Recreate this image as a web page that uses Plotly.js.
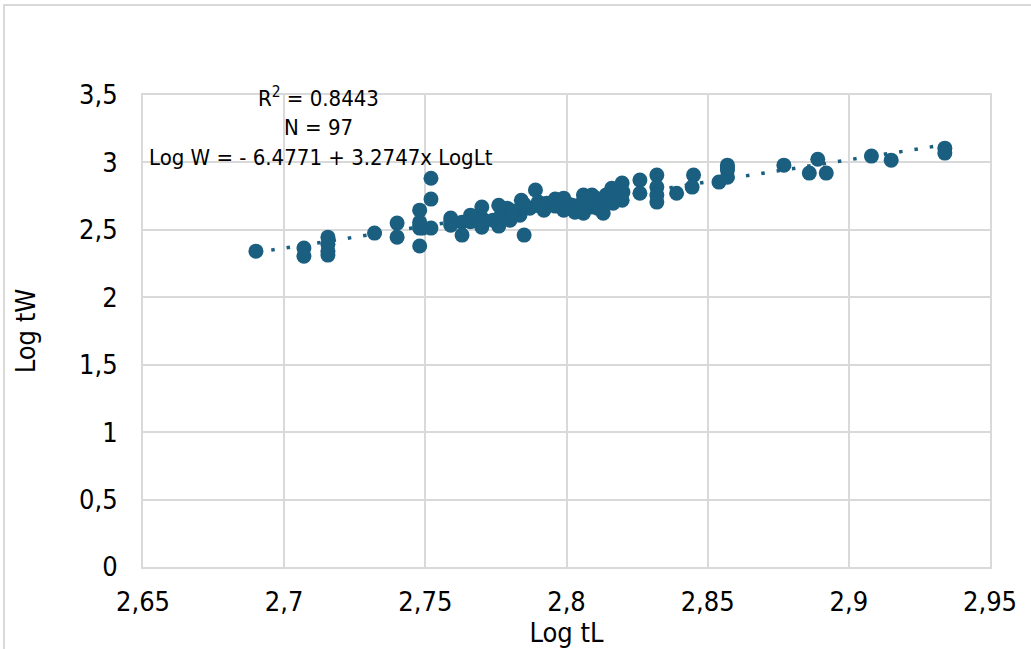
<!DOCTYPE html>
<html>
<head>
<meta charset="utf-8">
<script src="https://cdn.plot.ly/plotly-3.0.1.min.js"></script>
<style>
html,body{margin:0;padding:0;background:#fff;}
#wrap{position:relative;width:1031px;height:649px;}
#chart{width:1031px;height:649px;}
svg text{font-stretch:condensed !important;}
#frame{position:absolute;left:3px;top:4px;width:1040px;height:660px;border-left:2px solid #d9d9d9;border-top:2px solid #d9d9d9;pointer-events:none;}
</style>
</head>
<body>
<div id="wrap"><div id="chart"></div><div id="frame"></div></div>
<script>
// Log total length (x) and Log total weight (y)
const logTL = [
  2.690, 2.707, 2.707, 2.7155, 2.7155, 2.7155, 2.7155, 2.732, 2.740, 2.740,
  2.748, 2.748, 2.748, 2.748, 2.749, 2.752, 2.752, 2.752, 2.759, 2.759,
  2.763, 2.763, 2.770, 2.770, 2.770, 2.774, 2.776, 2.777, 2.776, 2.779,
  2.784, 2.7835, 2.785, 2.789, 2.787, 2.790, 2.793, 2.796, 2.799, 2.799,
  2.802, 2.806, 2.806, 2.809, 2.809, 2.8126, 2.813, 2.816, 2.8165, 2.8197,
  2.8197, 2.826, 2.826, 2.832, 2.832, 2.832, 2.832, 2.839, 2.845, 2.8445,
  2.854, 2.857, 2.857, 2.857, 2.877, 2.889, 2.886, 2.892, 2.908, 2.915,
  2.934, 2.934, 2.780, 2.792, 2.808, 2.811, 2.814, 2.818, 2.803, 2.796,
  2.766, 2.766, 2.781, 2.785, 2.800, 2.805, 2.810, 2.815, 2.820, 2.770,
  2.759, 2.748, 2.790, 2.798, 2.812, 2.807, 2.857
];
const logTW = [
  2.342, 2.365, 2.305, 2.446, 2.394, 2.342, 2.313, 2.476, 2.550, 2.446,
  2.646, 2.557, 2.513, 2.380, 2.513, 2.883, 2.728, 2.513, 2.587, 2.535,
  2.557, 2.461, 2.669, 2.587, 2.520, 2.572, 2.683, 2.624, 2.528, 2.661,
  2.720, 2.609, 2.461, 2.795, 2.661, 2.706, 2.698, 2.676, 2.735, 2.646,
  2.683, 2.758, 2.624, 2.758, 2.669, 2.720, 2.624, 2.809, 2.698, 2.847,
  2.720, 2.869, 2.772, 2.906, 2.817, 2.758, 2.706, 2.772, 2.906, 2.817,
  2.854, 2.980, 2.943, 2.891, 2.980, 3.024, 2.921, 2.921, 3.047, 3.017,
  3.106, 3.069, 2.572, 2.646, 2.706, 2.661, 2.758, 2.758, 2.631, 2.728,
  2.609, 2.560, 2.640, 2.690, 2.700, 2.690, 2.740, 2.730, 2.780, 2.560,
  2.560, 2.530, 2.680, 2.690, 2.660, 2.700, 2.960
];
// Regression shown on the chart
const intercept = -6.4771;
const slope = 3.2747;
const xTicks = [2.65, 2.7, 2.75, 2.8, 2.85, 2.9, 2.95];
const xTickText = ["2,65", "2,7", "2,75", "2,8", "2,85", "2,9", "2,95"];
const yTicks = [0, 0.5, 1, 1.5, 2, 2.5, 3, 3.5];
const yTickText = ["0", "0,5", "1", "1,5", "2", "2,5", "3", "3,5"];
const labels = ["R<sup>2</sup> = 0.8443", "N = 97", "Log W = - 6.4771 + 3.2747x LogLt"];

const xmin = Math.min(...logTL), xmax = Math.max(...logTL);
const trendX = [xmin, xmax];
const trendY = trendX.map(v => intercept + slope * v);

const col = '#1a5e80';
const fontFam = '"DejaVu Sans", sans-serif';

const traces = [
  {x: logTL, y: logTW, type: 'scatter', mode: 'markers',
   marker: {color: col, size: 15, line: {width: 0}}, showlegend: false, hoverinfo: 'x+y'},
  {x: trendX, y: trendY, type: 'scatter', mode: 'lines',
   line: {color: col, width: 3.5, dash: '3.5px,12px'}, showlegend: false, hoverinfo: 'skip'}
];

const layout = {
  width: 1031, height: 649,
  margin: {l: 143, r: 41, t: 95, b: 82, pad: 0},
  paper_bgcolor: '#fff', plot_bgcolor: '#fff',
  font: {family: fontFam, color: '#000', size: 27},
  xaxis: {
    range: [2.65, 2.95], tickvals: xTicks, ticktext: xTickText,
    showgrid: true, gridcolor: '#d9d9d9', gridwidth: 2,
    showline: true, linecolor: '#d9d9d9', linewidth: 2, mirror: true,
    zeroline: false, ticks: '', ticklen: 0, ticklabelstandoff: 10,
    tickfont: {size: 27, family: fontFam},
    title: {text: 'Log tL', font: {size: 27, family: fontFam}, standoff: 2}
  },
  yaxis: {
    range: [0, 3.5], tickvals: yTicks, ticktext: yTickText,
    showgrid: true, gridcolor: '#d9d9d9', gridwidth: 2,
    showline: true, linecolor: '#d9d9d9', linewidth: 2, mirror: true,
    zeroline: false, ticks: '', ticklabelstandoff: 18,
    tickfont: {size: 27, family: fontFam},
    title: {text: 'Log tW', font: {size: 27, family: fontFam}, standoff: 36}
  },
  annotations: [
    {text: labels[0], x: 0.207, y: 0.996, xref: 'paper', yref: 'paper', showarrow: false,
     xanchor: 'center', yanchor: 'middle', font: {size: 22, family: fontFam}},
    {text: labels[1], x: 0.207, y: 0.932, xref: 'paper', yref: 'paper', showarrow: false,
     xanchor: 'center', yanchor: 'middle', font: {size: 22, family: fontFam}},
    {text: labels[2], x: 0.005, y: 0.867, xref: 'paper', yref: 'paper', showarrow: false,
     xanchor: 'left', yanchor: 'middle', font: {size: 22, family: fontFam}}
  ]
};

Plotly.newPlot('chart', traces, layout, {displayModeBar: false, staticPlot: true});
</script>
</body>
</html>
